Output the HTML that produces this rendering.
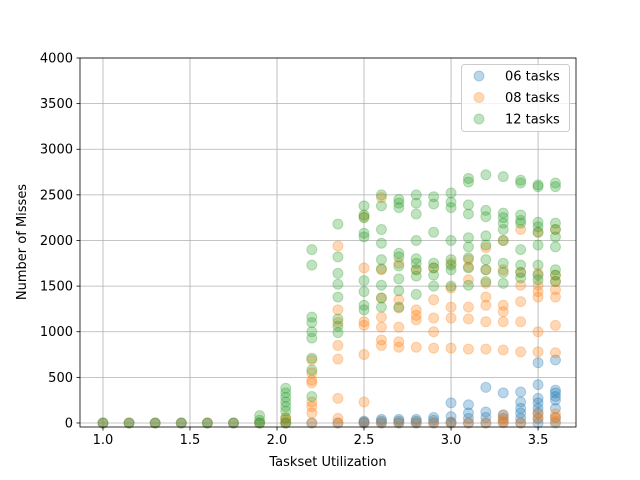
<!DOCTYPE html>
<html><head><meta charset="utf-8"><style>
body{margin:0;background:#fff}
svg{display:block;font-family:"DejaVu Sans","Liberation Sans",sans-serif}
</style></head><body>
<svg id="chart" width="640" height="480"></svg>
<script>
const xCats=[1.0,1.15,1.3,1.45,1.6,1.75,1.9,2.05,2.2,2.35,2.5,2.6,2.7,2.8,2.9,3.0,3.1,3.2,3.3,3.4,3.5,3.6];
const blueVals=[[0],[0],[0],[0],[0],[0],[0],[0],[0],[0],[0,10,20],[0,20,40],[0,20,40],[0,20,40],[0,30,60],[220,70,10,0],[200,110,50,0],[390,120,60,0],[330,90,50,10],[340,230,160,110,50,0],[660,420,270,220,160,110,50,0],[690,360,330,290,250,160,60,0]];
const orangeVals=[[0],[0],[0],[0],[0],[0],[0],[0,30,60],[690,550,470,440,230,180,110,0],[1940,1240,1100,850,700,270,50,0],[2260,1700,1110,1070,750,230,0],[2470,1680,1370,1160,1050,910,850,0],[1750,1350,1260,1050,890,830,0],[1680,1240,1180,1130,830,0],[1700,1350,1150,1000,820,0],[1750,1480,1270,1150,820,0],[1790,1710,1570,1270,1140,810,0],[1920,1680,1530,1380,1290,1110,810,0],[2000,1680,1290,1220,1110,800,80,30,0],[2120,1650,1510,1330,1110,780,0],[2090,1640,1510,1440,1380,1000,780,100,50],[2120,1620,1550,1460,1380,1070,770,100,60,20]];
const greenVals=[[0],[0],[0],[0],[0],[0],[0,30,80],[380,330,280,230,180,130,50,0],[1900,1730,1160,1100,1000,930,710,580,290],[2180,1820,1640,1520,1380,1140,1060,990],[2380,2280,2250,2080,2040,1560,1440,1290,1240],[2500,2380,2120,1970,1790,1690,1510,1370,1270],[2450,2410,2360,1860,1820,1720,1580,1450,1270],[2500,2410,2290,2000,1800,1750,1680,1610,1410],[2480,2400,2090,1750,1700,1620,1500],[2520,2420,2360,2000,1790,1730,1680,1500],[2680,2640,2390,2290,2030,1930,1810,1700,1510],[2720,2330,2260,2050,1950,1790,1680,1550],[2700,2300,2250,2190,2120,2000,1750,1650,1530],[2660,2630,2280,2220,2190,1900,1730,1650,1590],[2610,2590,2200,2150,2090,1950,1730,1620,1570],[2630,2590,2190,2120,2040,1930,1680,1620,1550]];
const xTicks=[1.0,1.5,2.0,2.5,3.0,3.5];
const yTicks=[0,500,1000,1500,2000,2500,3000,3500,4000];
const seriesNames=["06 tasks","08 tasks","12 tasks"];

const L=80,R=576,T=58,B=427;
const xMin=0.868,xMax=3.718,yMin=-44,yMax=4000;
const X=v=>L+(v-xMin)/(xMax-xMin)*(R-L);
const Y=v=>B-(v-yMin)/(yMax-yMin)*(B-T);
const svg=document.getElementById('chart');
const NS='http://www.w3.org/2000/svg';
function mk(tag,attrs,parent){const e=document.createElementNS(NS,tag);for(const k in attrs)e.setAttribute(k,attrs[k]);(parent||svg).appendChild(e);return e;}

xTicks.forEach(t=>{const l=mk('line',{x1:X(t),x2:X(t),y1:T,y2:B,stroke:'#b0b0b0','stroke-width':0.8});

});
yTicks.forEach(t=>{const l=mk('line',{x1:L,x2:R,y1:Y(t),y2:Y(t),stroke:'#b0b0b0','stroke-width':0.8});

});

const colors=['#1f77b4','#ff7f0e','#2ca02c'];
[blueVals,orangeVals,greenVals].forEach((ser,si)=>{
  const g=mk('g',{});
  
  
  ser.forEach((vals,i)=>vals.forEach(v=>{
    const c=mk('circle',{cx:X(xCats[i]),cy:Y(v),r:5,fill:colors[si],'fill-opacity':0.3,stroke:colors[si],'stroke-opacity':0.3,'stroke-width':1},g);
    
    
  }));
});

const fr=mk('rect',{x:L,y:T,width:R-L,height:B-T,fill:'none',stroke:'#000','stroke-width':0.8});



xTicks.forEach(t=>{
  mk('line',{x1:X(t),x2:X(t),y1:B,y2:B+3.5,stroke:'#000','stroke-width':0.8});
  const tx=mk('text',{x:X(t),y:B+17,'text-anchor':'middle','font-size':13});
  tx.textContent=t.toFixed(1);
  
  
});
yTicks.forEach(t=>{
  mk('line',{x1:L-3.5,x2:L,y1:Y(t),y2:Y(t),stroke:'#000','stroke-width':0.8});
  const tx=mk('text',{x:L-7,y:Y(t)+4.5,'text-anchor':'end','font-size':13});
  tx.textContent=t;
  
  
});

const xl=mk('text',{x:(L+R)/2,y:466,'text-anchor':'middle','font-size':13});
xl.textContent='Taskset Utilization';


const yl=mk('text',{x:0,y:0,'text-anchor':'middle','font-size':13,transform:'translate(26,242) rotate(-90)'});
yl.textContent='Number of Misses';



const lg=mk('g',{});


mk('rect',{x:461.5,y:64.5,width:108,height:67,rx:3,fill:'#fff','fill-opacity':0.8,stroke:'#ccc','stroke-width':1},lg);
seriesNames.forEach((n,i)=>{
  const yy=76+i*21.5;
  const e=mk('g',{},lg);
  
  
  mk('circle',{cx:479,cy:yy,r:5,fill:colors[i],'fill-opacity':0.3,stroke:colors[i],'stroke-opacity':0.3},e);
  const t=mk('text',{x:505,y:yy+4.5,'font-size':13},e);
  t.textContent=n;
});
</script>
</body></html>
